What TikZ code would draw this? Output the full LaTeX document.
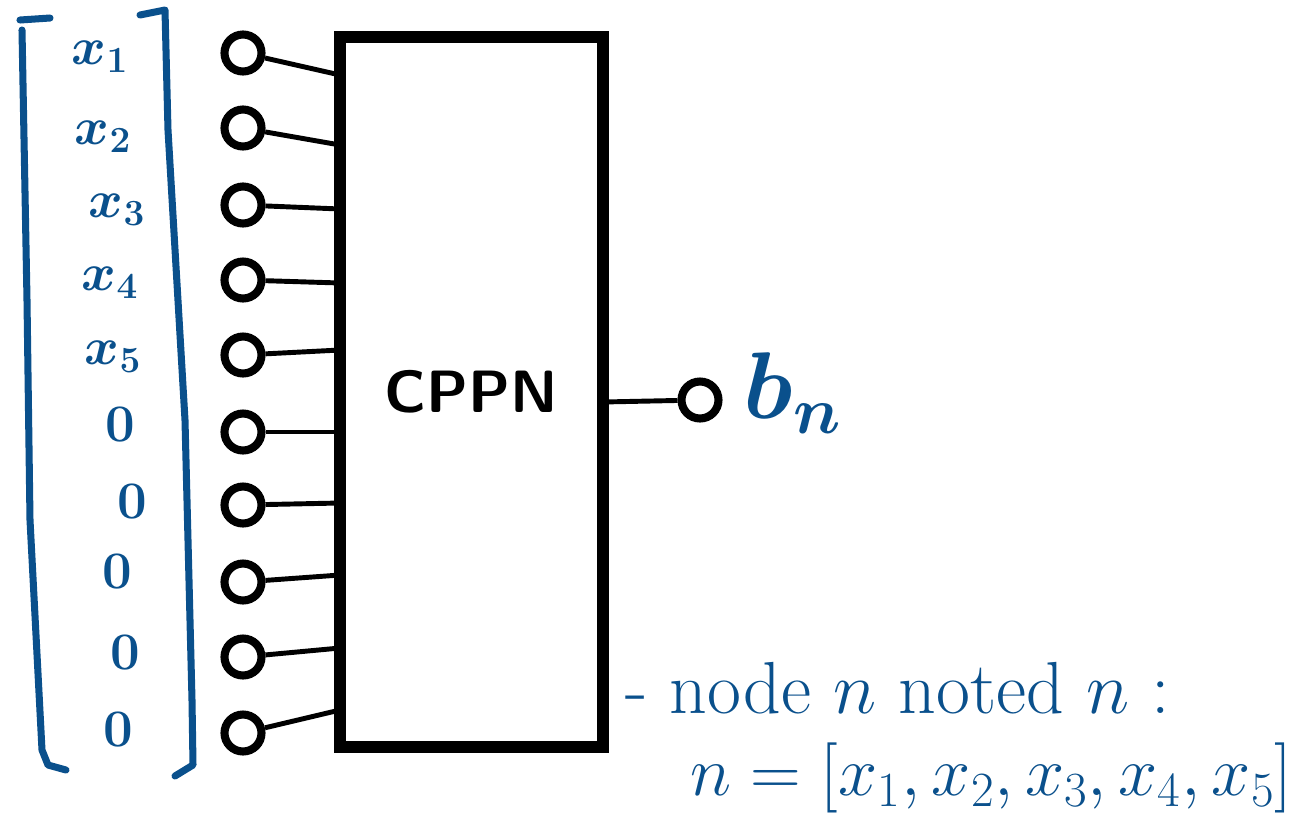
\documentclass[tikz,border=0pt]{standalone}
\usepackage{fix-cm}
\usetikzlibrary{positioning}
\definecolor{ink}{RGB}{10,80,140}
\begin{document}
\begin{tikzpicture}[x=0.02cm,y=-0.02cm,
  pin/.style={circle,draw,line width=4.6pt,minimum size=0.74cm,inner sep=0pt},
  wire/.style={line width=2.8pt},
  hand/.style={ink,inner sep=0pt,font=\boldmath\fontsize{30}{34}\selectfont},
  brk/.style={ink,line width=4pt,line cap=round,line join=round}]
\useasboundingbox (0,0) rectangle (1309,819);
\node[draw,line width=6.5pt,minimum width=5.26cm,minimum height=14.2cm,inner sep=0pt,
  font=\sffamily\bfseries\fontsize{34}{40}\selectfont] (cppn) at (471.5,392) {CPPN};
\foreach \i/\y/\e in {1/53/75,2/128/145,3/205/209,4/280/283,5/355/350,
                      6/432/432,7/505/503,8/582/575,9/657/648,10/733/710}{
  \node[pin] (in\i) at (243,\y) {};
  \coordinate (e\i) at (340,\e);
  \draw[wire] (in\i) -- (e\i);
}
\foreach \i/\x/\y/\t in {1/100/57/$x_1$,2/103/137/$x_2$,3/117/210/$x_3$,4/110/283/$x_4$,
    5/113/357/$x_5$,6/120/425/$0$,7/132/502/$0$,8/117/572/$0$,9/125/653/$0$,10/118/730/$0$}
  \node[hand] (v\i) at (\x,\y) {\t};
\draw[brk] (20,20) -- (50,18);
\draw[brk] (22,30) -- (27,300) -- (30,520) -- (42,750) -- (48,765) -- (66,770);
\draw[brk] (140,15) -- (165,10) -- (168,130) -- (185,420) -- (192,700) -- (193,765) -- (175,776);
\node[pin] (out) at (700,400) {};
\coordinate (o) at (603,402);
\draw[wire] (o) -- (out);
\node[hand,font=\boldmath\fontsize{54}{60}\selectfont,right=12pt of out,yshift=4pt] (bn) {$b_n$};
\node[hand,anchor=west,font=\fontsize{42}{46}\selectfont] (note) at (625,688) {- node $n$ noted $n$ :};
\node[hand,anchor=west,font=\fontsize{40}{44}\selectfont] (vec) at (690,778) {$n=[x_1,x_2,x_3,x_4,x_5]$};
\end{tikzpicture}
\end{document}
